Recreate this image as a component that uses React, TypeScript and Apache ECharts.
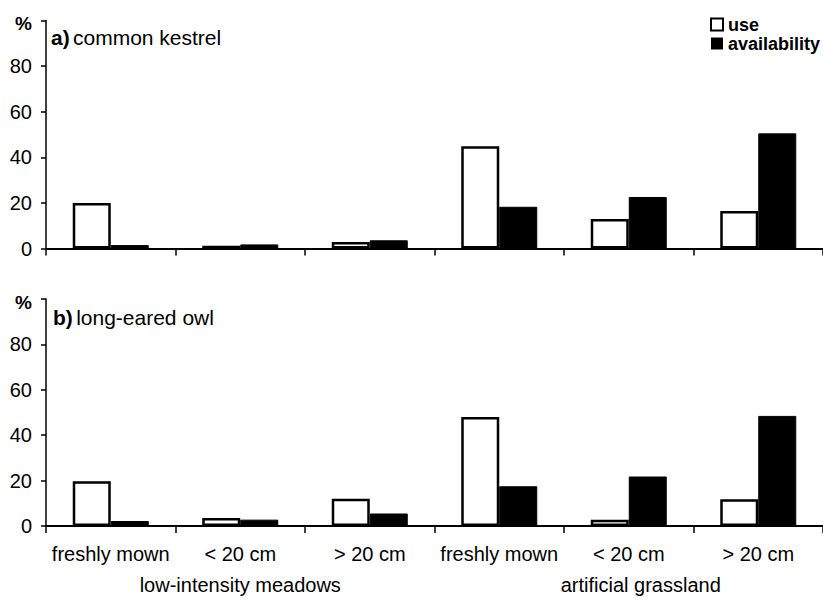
import React, { useEffect, useRef } from "react";
import * as echarts from "echarts";

const categories = ["freshly mown", "< 20 cm", "> 20 cm", "freshly mown", "< 20 cm", "> 20 cm"];
const groups = ["low-intensity meadows", "artificial grassland"];
const kestrelUse = [20, 1.2, 2.9, 44.8, 12.9, 16.5];
const kestrelAvail = [1.5, 1.8, 3.6, 18.3, 22.6, 50.5];
const owlUse = [19.7, 3.5, 12, 48, 2.8, 11.8];
const owlAvail = [2.2, 2.8, 5.5, 17.5, 21.8, 48.5];
const yTicks = { min: 0, max: 100, interval: 20 };

const FONT = "'Liberation Sans', Arial, sans-serif";

export default function App() {
  const ref = useRef<HTMLDivElement>(null);
  useEffect(() => {
    document.body.style.margin = "0";
    const chart = echarts.init(ref.current!, null, { renderer: "svg" });
    const axisLine = { show: true, lineStyle: { color: "#000", width: 2 } };
    const yAxisCommon = (gridIndex: number) => ({
      type: "value",
      gridIndex,
      min: yTicks.min,
      max: yTicks.max,
      interval: yTicks.interval,
      splitLine: { show: false },
      axisLine: { show: true, lineStyle: { color: "#000", width: 1.5 } },
      axisTick: { show: true, length: 5, inside: false, lineStyle: { color: "#000", width: 1.5 } },
      axisLabel: {
        color: "#000",
        fontFamily: FONT,
        fontSize: 20,
        margin: 14,
        formatter: (v: number) => (v === 100 ? "{p|%}" : String(v)),
        rich: { p: { fontWeight: "bold", fontSize: 19, fontFamily: FONT, color: "#000", padding: [6, 0, 0, 0] } },
      },
    });
    const xAxisCommon = (gridIndex: number, showLabel: boolean) => ({
      type: "category",
      gridIndex,
      data: categories,
      boundaryGap: true,
      axisLine,
      axisTick: { show: true, length: 7, alignWithLabel: false, lineStyle: { color: "#000", width: 1.5 } },
      axisLabel: { show: showLabel, color: "#000", fontFamily: FONT, fontSize: 20, margin: 18, interval: 0 },
      splitLine: { show: false },
    });
    const useStyle = { color: "#fff", borderColor: "#000", borderWidth: 2.5 };
    const availStyle = { color: "#000", borderColor: "#000", borderWidth: 1 };
    chart.setOption({
      animation: false,
      backgroundColor: "#fff",
      grid: [
        { left: 46, top: 20.5, width: 780, height: 228 },
        { left: 46, top: 299, width: 780, height: 227 },
      ],
      legend: {
        orient: "vertical",
        left: 710,
        top: 15,
        padding: 0,
        itemGap: 0,
        itemWidth: 12,
        itemHeight: 12,
        icon: "rect",
        textStyle: { color: "#000", fontFamily: FONT, fontSize: 18, fontWeight: "bold", lineHeight: 19 },
        data: [
          { name: "use", itemStyle: { color: "#fff", borderColor: "#000", borderWidth: 2 } },
          { name: "availability", itemStyle: { color: "#000", borderColor: "#000", borderWidth: 0 } },
        ],
      },
      xAxis: [
        xAxisCommon(0, false),
        xAxisCommon(1, true),
        {
          type: "category",
          gridIndex: 1,
          data: groups,
          position: "bottom",
          offset: 31,
          axisLine: { show: false },
          axisTick: { show: false },
          axisLabel: {
            color: "#000",
            fontFamily: FONT,
            fontSize: 20,
            margin: 18,
            interval: 0,
            formatter: (v: string, i: number) => (i === 1 ? "{r|" + v + "}" : v),
            rich: { r: { fontFamily: FONT, fontSize: 20, color: "#000", padding: [0, 0, 0, 24] } },
          },
          splitLine: { show: false },
        },
      ],
      yAxis: [yAxisCommon(0), yAxisCommon(1)],
      series: [
        { name: "use", type: "bar", xAxisIndex: 0, yAxisIndex: 0, data: kestrelUse, barWidth: 38, barGap: "0%", itemStyle: useStyle },
        { name: "availability", type: "bar", xAxisIndex: 0, yAxisIndex: 0, data: kestrelAvail, barWidth: 38, barGap: "0%", itemStyle: availStyle },
        { name: "use", type: "bar", xAxisIndex: 1, yAxisIndex: 1, data: owlUse, barWidth: 38, barGap: "0%", itemStyle: useStyle },
        { name: "availability", type: "bar", xAxisIndex: 1, yAxisIndex: 1, data: owlAvail, barWidth: 38, barGap: "0%", itemStyle: availStyle },
      ],
      graphic: [
        {
          type: "text",
          x: 51,
          y: 37,
          style: {
            text: "{b|a)} {n|common kestrel}",
            verticalAlign: "middle",
            rich: {
              b: { fontFamily: FONT, fontSize: 21, fontWeight: "bold", fill: "#000" },
              n: { fontFamily: FONT, fontSize: 21, fill: "#000" },
            },
          },
        },
        {
          type: "text",
          x: 53,
          y: 317,
          style: {
            text: "{b|b)} {n|long-eared owl}",
            verticalAlign: "middle",
            rich: {
              b: { fontFamily: FONT, fontSize: 21, fontWeight: "bold", fill: "#000" },
              n: { fontFamily: FONT, fontSize: 21, fill: "#000" },
            },
          },
        },
      ],
    });
    return () => chart.dispose();
  }, []);
  return <div ref={ref} style={{ width: 823, height: 600 }} />;
}
